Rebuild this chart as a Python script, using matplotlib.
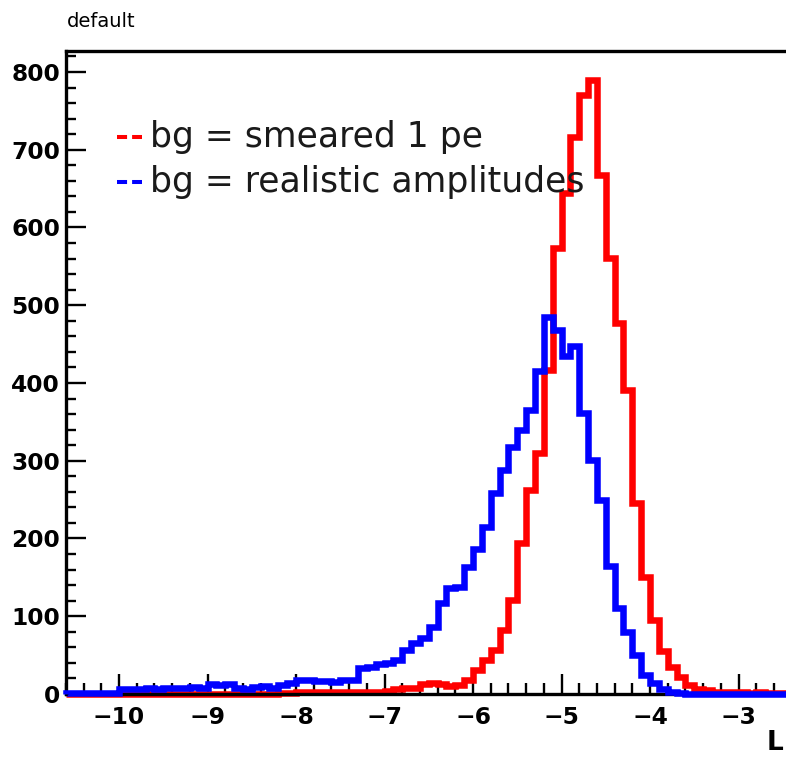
import matplotlib

matplotlib.use("Agg")
import matplotlib.pyplot as plt
import numpy as np
from matplotlib.lines import Line2D
from matplotlib.ticker import FixedLocator, MultipleLocator

plt.rcParams.update({
    "font.family": "DejaVu Sans",
    "font.weight": "bold",
    "axes.unicode_minus": True,
})

# histogram binning: 0.1 wide bins from -10.6 to -2.0
bin_edges = np.round(np.arange(-10.6, -1.95, 0.1), 1)

# bg = smeared 1 pe (red), one value per bin
red_counts = [
    0, 0, 0, 0, 0, 0,                                   # -10.6 .. -10.1
    0, 0, 0, 0, 0, 0, 0, 0, 0, 0,                       # -10.0 .. -9.1
    0, 0, 0, 0, 0, 0, 0, 0, 1, 1,                       # -9.0 .. -8.1
    2, 2, 2, 2, 2, 3, 2, 3, 3, 3,                       # -8.0 .. -7.1
    4, 7, 8, 8, 13, 14, 13, 10, 12, 18,                 # -7.0 .. -6.1
    31, 44, 57, 82, 121, 194, 262, 310, 417, 574,       # -6.0 .. -5.1
    644, 716, 770, 790, 667, 561, 477, 391, 246, 150,   # -5.0 .. -4.1
    95, 55, 35, 22, 12, 7, 5, 3, 2, 2,                  # -4.0 .. -3.1
    2, 1, 2, 1, 1, 1, 0, 1, 0, 0,                       # -3.0 .. -2.1
]

# bg = realistic amplitudes (blue)
blue_counts = [
    1, 1, 1, 1, 1, 1,                                   # -10.6 .. -10.1
    6, 7, 7, 8, 7, 8, 8, 8, 9, 8,                       # -10.0 .. -9.1
    13, 12, 13, 8, 7, 9, 10, 8, 12, 14,                 # -9.0 .. -8.1
    18, 18, 17, 17, 15, 18, 18, 33, 35, 38,             # -8.0 .. -7.1
    40, 44, 57, 66, 72, 86, 117, 136, 138, 163,         # -7.0 .. -6.1
    187, 215, 258, 288, 318, 340, 365, 415, 485, 468,   # -6.0 .. -5.1
    435, 447, 361, 301, 250, 165, 110, 80, 50, 25,      # -5.0 .. -4.1
    14, 6, 2, 1, 0, 0, 0, 0, 0, 0,                      # -4.0 .. -3.1
    0, 0, 0, 0, 0, 0, 0, 0, 0, 0,                       # -3.0 .. -2.1
]

legend_labels = ["bg = smeared 1 pe", "bg = realistic amplitudes"]
legend_colors = ["#ff0000", "#0000ff"]
x_tick_values = [-10, -9, -8, -7, -6, -5, -4, -3]
y_tick_values = [0, 100, 200, 300, 400, 500, 600, 700, 800]

W, H = 786, 757


def fx(px):
    return px / W


def fy(py):
    return 1 - py / H


def main():
    fig = plt.figure(figsize=(W / 100, H / 100), dpi=100)
    fig.patch.set_facecolor("white")

    # frame: -10 sits at x=119 px, 88.5 px per unit; y=0 at 694 px, top at 51 px
    x_min, x_max = bin_edges[0], bin_edges[-1]
    px_per_unit = 88.5
    left_px = 119 + (x_min + 10) * px_per_unit
    width_px = (x_max - x_min) * px_per_unit
    ax = fig.add_axes([fx(left_px), fy(694), width_px / W, (694 - 51) / H])

    ax.stairs(red_counts, bin_edges, color=legend_colors[0], lw=4.7,
              baseline=0, zorder=2, clip_on=False)
    ax.stairs(blue_counts, bin_edges, color=legend_colors[1], lw=4.7,
              baseline=0, zorder=3, clip_on=False)

    ax.set_xlim(x_min, x_max)
    ax.set_ylim(0, 827)

    ax.xaxis.set_major_locator(FixedLocator(x_tick_values))
    ax.xaxis.set_minor_locator(MultipleLocator(0.2))
    ax.yaxis.set_major_locator(FixedLocator(y_tick_values))
    ax.yaxis.set_minor_locator(MultipleLocator(20))
    ax.set_xticklabels([f"\u2212{abs(v)}" for v in x_tick_values])
    ax.set_yticklabels([str(v) for v in y_tick_values])

    ax.tick_params(which="both", direction="in", top=False, right=False,
                   colors="black", width=1.7)
    ax.tick_params(axis="x", which="major", length=14.4, pad=8.6, labelsize=16.8)
    ax.tick_params(axis="x", which="minor", length=8.0)
    ax.tick_params(axis="y", which="major", length=14.4, pad=4.3, labelsize=16.8)
    ax.tick_params(axis="y", which="minor", length=7.2)
    for spine in ax.spines.values():
        spine.set_linewidth(2.4)
        spine.set_color("black")

    # legend drawn as ROOT does: dashed stubs and plain text
    for i, (label, color) in enumerate(zip(legend_labels, legend_colors)):
        y_line = 137 + 45 * i
        y_text = 147 + 45 * i
        fig.add_artist(Line2D([fx(117), fx(142)], [fy(y_line), fy(y_line)],
                              transform=fig.transFigure, color=color,
                              lw=2.9, dashes=(2.5, 1.25), zorder=10))
        fig.text(fx(150), fy(y_text), label, fontsize=24.9, fontweight="normal",
                 color="#1a1a1a", va="baseline", ha="left", zorder=10)

    fig.text(fx(67), fy(27), "default", fontsize=14, fontweight="normal",
             color="black", va="baseline", ha="left")
    fig.text(fx(767), fy(756), "L", fontsize=19, fontweight="bold",
             color="black", va="bottom", ha="left")

    fig.savefig("out.png", dpi=100, facecolor="white")


if __name__ == "__main__":
    main()
